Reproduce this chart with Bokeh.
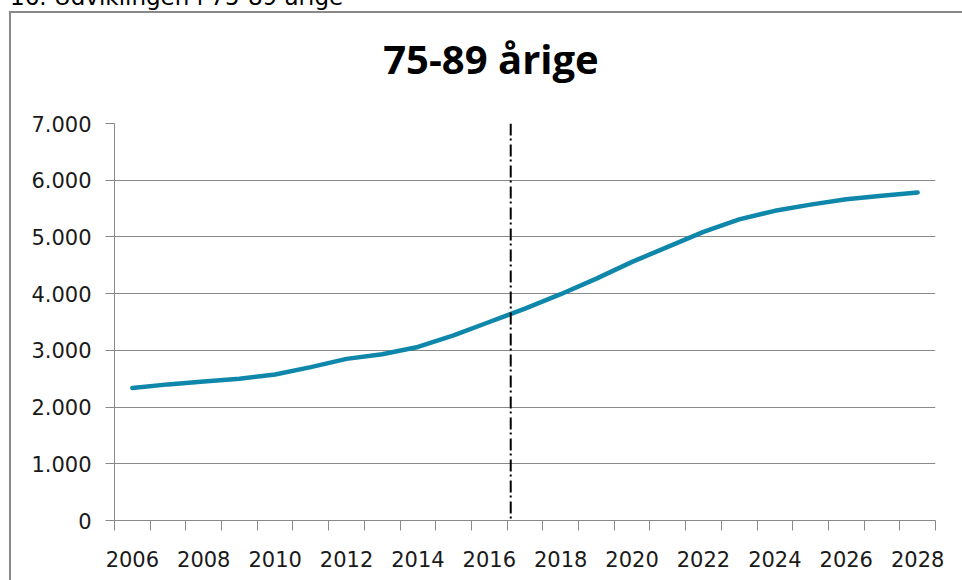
from bokeh.plotting import figure
from bokeh.models import (ColumnDataSource, FixedTicker, CustomJSTickFormatter, Span,
                          Range1d, Div)
from bokeh.layouts import column
from bokeh.embed import file_html
from bokeh.resources import INLINE

# ---- data ----
years = list(range(2006, 2029))
values = [2335, 2400, 2450, 2500, 2575, 2705, 2850, 2930, 3060, 3265, 3500, 3735,
          3990, 4265, 4560, 4825, 5090, 5310, 5460, 5570, 5665, 5725, 5785]
year_labels = list(range(2006, 2029, 2))
y_ticks = [0, 1000, 2000, 3000, 4000, 5000, 6000, 7000]
forecast_split = 2016.6
title_text = "75-89 årige"
caption_text = "16. Udviklingen i 75-89 årige"

GRAY = "#898989"
TEXT = "#1a1a1a"
LINE = "#0f87ab"

src = ColumnDataSource(dict(x=years, y=values))

p = figure(width=951, height=480, output_backend="svg", toolbar_location=None,
           x_range=Range1d(years[0] - 0.5, years[-1] + 0.5),
           y_range=Range1d(0, 7000),
           min_border_left=103, min_border_right=27, min_border_top=23,
           min_border_bottom=60,
           styles={"box-shadow": "-2px 0 0 0 " + GRAY})
p.margin = (0, 0, 0, 11)
p.outline_line_color = None
p.background_fill_color = "white"
p.border_fill_color = "white"

p.line("x", "y", source=src, line_color=LINE, line_width=4.5, line_cap="round",
       line_join="round")

p.add_layout(Span(location=forecast_split, dimension="height", line_color="black",
                  line_width=2, line_dash="12 3 2 4"))

# x axis
p.xaxis.ticker = FixedTicker(ticks=year_labels,
                             minor_ticks=[y - 0.5 for y in years] + [years[-1] + 0.5])
p.xaxis.major_tick_out = 0
p.xaxis.major_tick_in = 0
p.xaxis.minor_tick_out = 10
p.xaxis.minor_tick_in = 0
p.xaxis.minor_tick_line_color = GRAY
p.xaxis.axis_line_color = GRAY
p.xaxis.major_label_standoff = 20
p.xaxis.major_label_text_font = "DejaVu Sans"
p.xaxis.major_label_text_font_size = "21px"
p.xaxis.major_label_text_color = TEXT
p.xgrid.visible = False

# y axis
p.yaxis.ticker = FixedTicker(ticks=y_ticks, minor_ticks=[])
p.yaxis.formatter = CustomJSTickFormatter(
    code="return tick.toFixed(0).replace(/\\B(?=(\\d{3})+(?!\\d))/g, '.');")
p.yaxis.major_tick_out = 9
p.yaxis.major_tick_in = 0
p.yaxis.major_tick_line_color = GRAY
p.yaxis.axis_line_color = GRAY
p.yaxis.major_label_standoff = 14
p.yaxis.major_label_text_font = "DejaVu Sans"
p.yaxis.major_label_text_font_size = "21px"
p.yaxis.major_label_text_color = TEXT
p.ygrid.grid_line_color = GRAY
p.ygrid.grid_line_width = 1

header_html = (
    "<div style=\"position:relative;width:962px;height:100px;overflow:hidden;\">"
    "<div style=\"position:absolute;left:10px;top:-16px;white-space:nowrap;"
    "font-family:'DejaVu Sans';font-size:23px;line-height:27px;color:black;\">"
    + caption_text + "</div>"
    "<div style=\"position:absolute;left:9px;top:11px;width:980px;height:120px;"
    "border-top:2px solid " + GRAY + ";border-left:2px solid " + GRAY + ";\"></div>"
    "<div style=\"position:absolute;left:0px;top:39px;width:982px;text-align:center;"
    "white-space:nowrap;font-family:'Open Sans';font-weight:bold;font-size:40px;"
    "line-height:40px;color:black;\">" + title_text + "</div>"
    "</div>"
)
header = Div(text=header_html, width=962, height=100, margin=0,
             styles={"overflow": "hidden"})

layout = column(header, p, spacing=0)

open("out.html", "w").write(file_html(layout, INLINE))
